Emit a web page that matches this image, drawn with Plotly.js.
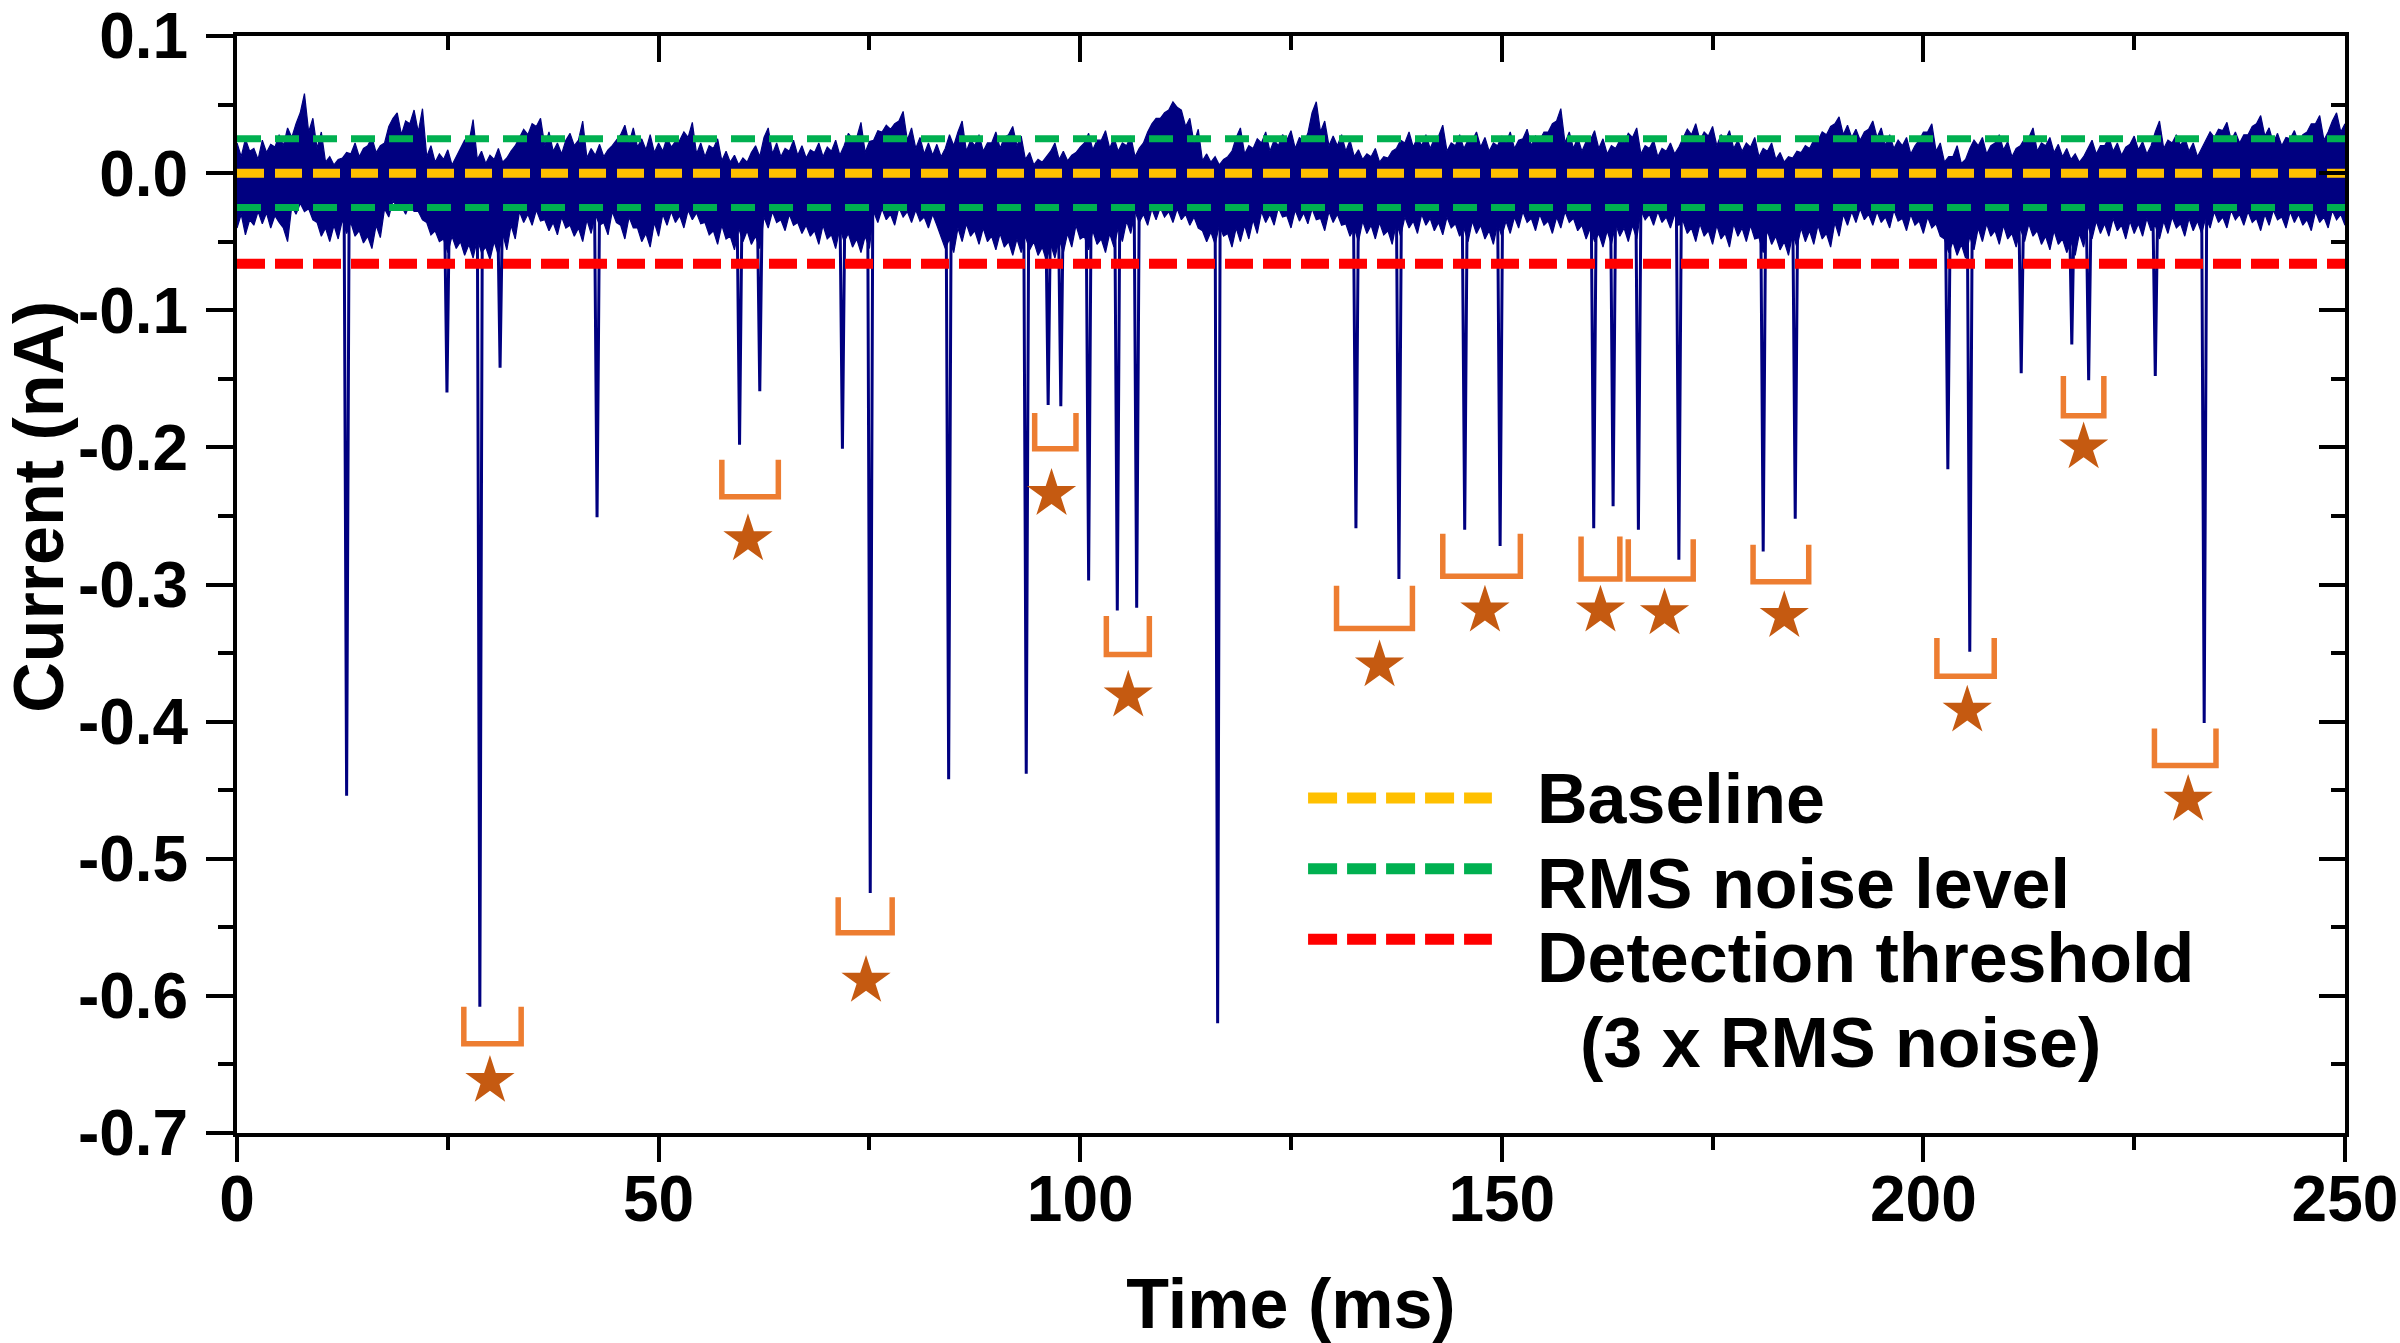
<!DOCTYPE html>
<html>
<head>
<meta charset="utf-8">
<script src="https://cdn.plot.ly/plotly-3.0.1.min.js"></script>
<style>html,body{margin:0;padding:0;background:#fff;}#chart{width:2400px;height:1343px;}</style>
</head>
<body>
<div id="chart"></div>
<script>
// ---- data ----
// sample times (ms) of the band envelope, whole and half milliseconds
const timeMs = [
  0,1,2,3,4,5,6,7,8,9,10,11,12,13,14,15,16,17,18,19,20,21,22,23,24,25,26,27,28,29,30,
  31,32,33,34,35,36,37,38,39,40,41,42,43,44,45,46,47,48,49,50,51,52,53,54,55,56,57,58,59,60,
  61,62,63,64,65,66,67,68,69,70,71,72,73,74,75,76,77,78,79,80,81,82,83,84,85,86,87,88,89,90,
  91,92,93,94,95,96,97,98,99,100,101,102,103,104,105,106,107,108,109,110,111,112,113,114,115,116,117,118,119,120,
  121,122,123,124,125,126,127,128,129,130,131,132,133,134,135,136,137,138,139,140,141,142,143,144,145,146,147,148,149,150,
  151,152,153,154,155,156,157,158,159,160,161,162,163,164,165,166,167,168,169,170,171,172,173,174,175,176,177,178,179,180,
  181,182,183,184,185,186,187,188,189,190,191,192,193,194,195,196,197,198,199,200,201,202,203,204,205,206,207,208,209,210,
  211,212,213,214,215,216,217,218,219,220,221,222,223,224,225,226,227,228,229,230,231,232,233,234,235,236,237,238,239,240,
  241,242,243,244,245,246,247,248,249,250
];
const timeMidMs = [
  0.5,1.5,2.5,3.5,4.5,5.5,6.5,7.5,8.5,9.5,10.5,11.5,12.5,13.5,14.5,15.5,16.5,17.5,18.5,19.5,
  20.5,21.5,22.5,23.5,24.5,25.5,26.5,27.5,28.5,29.5,30.5,31.5,32.5,33.5,34.5,35.5,36.5,37.5,38.5,39.5,
  40.5,41.5,42.5,43.5,44.5,45.5,46.5,47.5,48.5,49.5,50.5,51.5,52.5,53.5,54.5,55.5,56.5,57.5,58.5,59.5,
  60.5,61.5,62.5,63.5,64.5,65.5,66.5,67.5,68.5,69.5,70.5,71.5,72.5,73.5,74.5,75.5,76.5,77.5,78.5,79.5,
  80.5,81.5,82.5,83.5,84.5,85.5,86.5,87.5,88.5,89.5,90.5,91.5,92.5,93.5,94.5,95.5,96.5,97.5,98.5,99.5,
  100.5,101.5,102.5,103.5,104.5,105.5,106.5,107.5,108.5,109.5,110.5,111.5,112.5,113.5,114.5,115.5,116.5,117.5,118.5,119.5,
  120.5,121.5,122.5,123.5,124.5,125.5,126.5,127.5,128.5,129.5,130.5,131.5,132.5,133.5,134.5,135.5,136.5,137.5,138.5,139.5,
  140.5,141.5,142.5,143.5,144.5,145.5,146.5,147.5,148.5,149.5,150.5,151.5,152.5,153.5,154.5,155.5,156.5,157.5,158.5,159.5,
  160.5,161.5,162.5,163.5,164.5,165.5,166.5,167.5,168.5,169.5,170.5,171.5,172.5,173.5,174.5,175.5,176.5,177.5,178.5,179.5,
  180.5,181.5,182.5,183.5,184.5,185.5,186.5,187.5,188.5,189.5,190.5,191.5,192.5,193.5,194.5,195.5,196.5,197.5,198.5,199.5,
  200.5,201.5,202.5,203.5,204.5,205.5,206.5,207.5,208.5,209.5,210.5,211.5,212.5,213.5,214.5,215.5,216.5,217.5,218.5,219.5,
  220.5,221.5,222.5,223.5,224.5,225.5,226.5,227.5,228.5,229.5,230.5,231.5,232.5,233.5,234.5,235.5,236.5,237.5,238.5,239.5,
  240.5,241.5,242.5,243.5,244.5,245.5,246.5,247.5,248.5,249.5
];
// upper edge of the open-pore noise band (nA) at whole ms
const noiseHigh = [
  0.022,0.025,0.018,0.024,0.021,0.028,0.033,0.036,0.058,0.040,0.030,
  0.012,0.010,0.015,0.022,0.018,0.026,0.020,0.034,0.044,0.038,
  0.046,0.047,0.020,0.014,0.017,0.012,0.024,0.039,0.016,0.013,
  0.018,0.011,0.020,0.032,0.036,0.040,0.030,0.022,0.024,0.020,
  0.038,0.018,0.021,0.017,0.024,0.035,0.033,0.025,0.028,0.022,
  0.026,0.023,0.030,0.037,0.022,0.020,0.025,0.016,0.013,0.011,
  0.015,0.012,0.033,0.022,0.018,0.024,0.020,0.017,0.022,0.019,
  0.024,0.020,0.025,0.037,0.023,0.031,0.035,0.036,0.045,0.033,
  0.026,0.022,0.021,0.018,0.020,0.038,0.024,0.028,0.022,0.030,
  0.026,0.034,0.027,0.015,0.010,0.012,0.022,0.016,0.013,0.019,
  0.029,0.024,0.031,0.026,0.022,0.027,0.018,0.030,0.040,0.044,
  0.052,0.046,0.040,0.032,0.014,0.012,0.010,0.016,0.033,0.020,
  0.025,0.030,0.024,0.028,0.031,0.026,0.029,0.052,0.038,0.027,
  0.028,0.024,0.017,0.014,0.018,0.012,0.016,0.024,0.030,0.026,
  0.028,0.025,0.035,0.022,0.028,0.024,0.030,0.026,0.022,0.027,
  0.030,0.024,0.032,0.027,0.030,0.036,0.047,0.030,0.026,0.023,
  0.031,0.025,0.020,0.024,0.029,0.033,0.020,0.024,0.018,0.022,
  0.019,0.032,0.036,0.030,0.034,0.028,0.031,0.024,0.022,0.026,
  0.018,0.022,0.015,0.012,0.016,0.020,0.024,0.030,0.034,0.041,
  0.035,0.032,0.030,0.038,0.033,0.028,0.024,0.026,0.020,0.030,
  0.036,0.022,0.012,0.020,0.010,0.024,0.026,0.020,0.028,0.023,
  0.018,0.025,0.033,0.022,0.026,0.021,0.018,0.014,0.012,0.024,
  0.020,0.026,0.022,0.019,0.027,0.023,0.020,0.038,0.024,0.028,
  0.026,0.022,0.018,0.030,0.032,0.037,0.030,0.028,0.034,0.042,
  0.033,0.029,0.026,0.031,0.028,0.036,0.042,0.030,0.044,0.036
];
// upper edge at half ms
const noiseHighMid = [
  0.012,0.016,0.010,0.015,0.019,0.020,0.026,0.044,0.030,0.018,
  0.008,0.006,0.011,0.014,0.012,0.020,0.015,0.022,0.040,0.028,
  0.036,0.030,0.012,0.008,0.010,0.006,0.018,0.022,0.010,0.007,
  0.010,0.008,0.016,0.026,0.028,0.034,0.020,0.016,0.014,0.029,
  0.024,0.011,0.013,0.012,0.020,0.028,0.022,0.019,0.017,0.015,
  0.016,0.019,0.024,0.026,0.014,0.012,0.018,0.009,0.008,0.006,
  0.008,0.020,0.026,0.014,0.012,0.016,0.013,0.011,0.015,0.012,
  0.016,0.013,0.029,0.026,0.015,0.024,0.030,0.032,0.038,0.024,
  0.018,0.014,0.013,0.012,0.028,0.030,0.016,0.020,0.016,0.022,
  0.018,0.028,0.020,0.010,0.006,0.008,0.016,0.010,0.009,0.015,
  0.022,0.017,0.024,0.018,0.016,0.020,0.012,0.022,0.036,0.040,
  0.046,0.048,0.034,0.022,0.009,0.008,0.006,0.012,0.026,0.014,
  0.018,0.022,0.016,0.020,0.024,0.018,0.022,0.044,0.030,0.020,
  0.020,0.016,0.012,0.010,0.012,0.008,0.011,0.018,0.022,0.019,
  0.020,0.018,0.027,0.016,0.020,0.018,0.024,0.019,0.016,0.020,
  0.022,0.018,0.025,0.020,0.024,0.030,0.038,0.022,0.018,0.016,
  0.024,0.018,0.014,0.018,0.022,0.026,0.014,0.018,0.012,0.016,
  0.014,0.026,0.028,0.024,0.027,0.020,0.024,0.018,0.016,0.019,
  0.012,0.016,0.010,0.008,0.011,0.015,0.018,0.024,0.028,0.036,
  0.028,0.026,0.024,0.032,0.026,0.020,0.018,0.020,0.014,0.024,
  0.030,0.016,0.008,0.012,0.007,0.018,0.020,0.014,0.022,0.017,
  0.012,0.020,0.026,0.016,0.020,0.015,0.012,0.010,0.008,0.018,
  0.014,0.020,0.016,0.013,0.021,0.017,0.014,0.030,0.018,0.022,
  0.020,0.016,0.012,0.024,0.026,0.031,0.024,0.022,0.028,0.036,
  0.027,0.022,0.020,0.025,0.022,0.030,0.036,0.024,0.038,0.030
];
// lower edge of the open-pore noise band (nA) at whole ms
const noiseLow = [
  -0.040,-0.045,-0.038,-0.037,-0.040,-0.036,-0.050,-0.030,-0.028,-0.034,-0.046,
  -0.050,-0.048,-0.044,-0.046,-0.051,-0.055,-0.047,-0.032,-0.025,-0.030,
  -0.028,-0.034,-0.045,-0.050,-0.058,-0.055,-0.060,-0.062,-0.058,-0.063,
  -0.060,-0.056,-0.048,-0.036,-0.038,-0.035,-0.042,-0.045,-0.040,-0.046,
  -0.050,-0.044,-0.038,-0.045,-0.036,-0.048,-0.040,-0.050,-0.054,-0.046,
  -0.038,-0.036,-0.040,-0.034,-0.037,-0.045,-0.052,-0.048,-0.056,-0.050,
  -0.052,-0.055,-0.040,-0.036,-0.042,-0.038,-0.044,-0.046,-0.052,-0.048,
  -0.055,-0.050,-0.054,-0.058,-0.055,-0.036,-0.034,-0.038,-0.032,-0.036,
  -0.035,-0.040,-0.038,-0.055,-0.058,-0.050,-0.046,-0.052,-0.050,-0.056,
  -0.054,-0.060,-0.058,-0.056,-0.060,-0.064,-0.062,-0.058,-0.054,-0.048,
  -0.056,-0.052,-0.058,-0.054,-0.050,-0.044,-0.036,-0.038,-0.034,-0.032,
  -0.036,-0.034,-0.038,-0.040,-0.050,-0.052,-0.046,-0.054,-0.050,-0.048,
  -0.044,-0.036,-0.038,-0.032,-0.040,-0.035,-0.037,-0.034,-0.042,-0.036,
  -0.038,-0.046,-0.050,-0.044,-0.048,-0.045,-0.052,-0.046,-0.040,-0.044,
  -0.038,-0.042,-0.045,-0.040,-0.046,-0.050,-0.044,-0.048,-0.052,-0.046,
  -0.044,-0.040,-0.036,-0.042,-0.038,-0.044,-0.040,-0.036,-0.042,-0.048,
  -0.050,-0.054,-0.052,-0.046,-0.050,-0.048,-0.034,-0.038,-0.036,-0.040,
  -0.038,-0.044,-0.050,-0.046,-0.052,-0.048,-0.054,-0.046,-0.050,-0.048,
  -0.058,-0.052,-0.056,-0.060,-0.054,-0.050,-0.052,-0.048,-0.054,-0.046,
  -0.038,-0.036,-0.034,-0.038,-0.036,-0.040,-0.035,-0.042,-0.038,-0.044,
  -0.040,-0.046,-0.058,-0.060,-0.062,-0.056,-0.050,-0.046,-0.052,-0.048,
  -0.054,-0.050,-0.046,-0.052,-0.056,-0.052,-0.058,-0.060,-0.054,-0.048,
  -0.044,-0.046,-0.042,-0.048,-0.044,-0.046,-0.042,-0.048,-0.044,-0.040,
  -0.046,-0.042,-0.044,-0.040,-0.036,-0.040,-0.034,-0.038,-0.036,-0.042,
  -0.038,-0.034,-0.040,-0.036,-0.038,-0.042,-0.036,-0.040,-0.034,-0.038
];
// lower edge at half ms
const noiseLowMid = [
  -0.030,-0.034,-0.028,-0.029,-0.031,-0.040,-0.024,-0.022,-0.026,-0.036,
  -0.040,-0.038,-0.034,-0.036,-0.042,-0.046,-0.038,-0.026,-0.020,-0.024,
  -0.022,-0.028,-0.036,-0.042,-0.048,-0.046,-0.050,-0.052,-0.048,-0.054,
  -0.050,-0.044,-0.038,-0.028,-0.030,-0.027,-0.034,-0.036,-0.032,-0.038,
  -0.040,-0.034,-0.030,-0.036,-0.028,-0.038,-0.032,-0.040,-0.044,-0.036,
  -0.030,-0.028,-0.031,-0.027,-0.029,-0.036,-0.042,-0.038,-0.046,-0.040,
  -0.042,-0.046,-0.032,-0.028,-0.034,-0.030,-0.036,-0.038,-0.042,-0.038,
  -0.045,-0.040,-0.044,-0.048,-0.046,-0.028,-0.026,-0.030,-0.025,-0.028,
  -0.027,-0.032,-0.030,-0.046,-0.048,-0.040,-0.037,-0.042,-0.040,-0.046,
  -0.044,-0.050,-0.048,-0.046,-0.050,-0.054,-0.052,-0.048,-0.044,-0.038,
  -0.046,-0.042,-0.048,-0.044,-0.040,-0.035,-0.028,-0.030,-0.026,-0.025,
  -0.028,-0.026,-0.030,-0.032,-0.042,-0.043,-0.038,-0.044,-0.040,-0.038,
  -0.034,-0.028,-0.030,-0.025,-0.031,-0.027,-0.029,-0.026,-0.033,-0.028,
  -0.030,-0.037,-0.040,-0.035,-0.038,-0.036,-0.042,-0.036,-0.032,-0.035,
  -0.030,-0.033,-0.036,-0.032,-0.037,-0.040,-0.035,-0.038,-0.042,-0.037,
  -0.035,-0.032,-0.028,-0.033,-0.030,-0.035,-0.032,-0.028,-0.033,-0.038,
  -0.040,-0.044,-0.042,-0.037,-0.040,-0.038,-0.027,-0.030,-0.028,-0.032,
  -0.030,-0.035,-0.040,-0.037,-0.042,-0.038,-0.044,-0.037,-0.040,-0.038,
  -0.047,-0.042,-0.046,-0.050,-0.044,-0.040,-0.042,-0.038,-0.044,-0.036,
  -0.030,-0.028,-0.026,-0.030,-0.028,-0.032,-0.027,-0.033,-0.030,-0.035,
  -0.032,-0.037,-0.048,-0.050,-0.052,-0.046,-0.040,-0.037,-0.042,-0.038,
  -0.044,-0.040,-0.037,-0.042,-0.046,-0.042,-0.048,-0.050,-0.044,-0.038,
  -0.035,-0.037,-0.033,-0.038,-0.035,-0.037,-0.033,-0.038,-0.035,-0.032,
  -0.037,-0.033,-0.035,-0.032,-0.028,-0.032,-0.027,-0.030,-0.028,-0.033,
  -0.030,-0.027,-0.032,-0.028,-0.030,-0.034,-0.028,-0.032,-0.027,-0.030
];
// translocation events: time (ms) and peak current (nA)
const eventTime  = [13.0, 24.9, 28.8, 31.2, 42.7, 59.6, 62.0, 71.8, 75.1, 84.4, 93.6, 96.2, 97.7, 101.0, 104.4, 106.7, 116.3,
                    132.7, 137.8, 145.6, 149.8, 160.9, 163.2, 166.2, 171.0, 181.0, 184.8, 202.9, 205.5, 211.6, 217.6, 219.6, 227.5, 233.3];
const eventDepth = [-0.454, -0.160, -0.608, -0.142, -0.251, -0.198, -0.159, -0.201, -0.525, -0.442, -0.438, -0.169, -0.170, -0.297, -0.319, -0.317, -0.620,
                    -0.259, -0.296, -0.260, -0.272, -0.259, -0.243, -0.260, -0.282, -0.276, -0.252, -0.216, -0.349, -0.146, -0.125, -0.151, -0.148, -0.401];
const eventShoulder = -0.02;   // level from which each spike leaves the band
// marked event pairs (brackets) and stars
const bracketStart  = [26.9, 57.5, 71.3, 94.6, 103.1, 130.4, 143.0, 159.4, 165.0, 179.8, 201.6, 216.6, 227.4];
const bracketEnd    = [33.7, 64.2, 77.7, 99.5, 108.2, 139.4, 152.2, 164.0, 172.7, 186.4, 208.4, 221.4, 234.7];
const bracketTop    = [-0.608, -0.209, -0.528, -0.175, -0.323, -0.301, -0.263, -0.265, -0.267, -0.271, -0.339, -0.148, -0.405];
const bracketBottom = [-0.635, -0.236, -0.554, -0.201, -0.351, -0.332, -0.294, -0.296, -0.296, -0.298, -0.367, -0.177, -0.432];
const starTime  = [30.0, 60.6, 74.6, 96.6, 105.7, 135.5, 148.0, 161.7, 169.3, 183.5, 205.2, 219.0, 231.4];
const starLevel = [-0.662, -0.267, -0.589, -0.234, -0.381, -0.359, -0.319, -0.319, -0.321, -0.323, -0.392, -0.200, -0.457];
// reference levels (nA)
const baselineLevel  = 0.0;
const rmsLevel       = 0.025;
const thresholdLevel = -0.066;
const timeRange = [0, 250];
const currentRange = [-0.7, 0.1];
// ticks
const xTickVals = [0, 50, 100, 150, 200, 250];
const xTickText = ['0', '50', '100', '150', '200', '250'];
const yTickVals = [-0.7, -0.6, -0.5, -0.4, -0.3, -0.2, -0.1, 0.0, 0.1];
const yTickText = ['-0.7', '-0.6', '-0.5', '-0.4', '-0.3', '-0.2', '-0.1', '0.0', '0.1'];
const legendLabels = ['Baseline', 'RMS noise level', 'Detection threshold', '(3 x RMS noise)'];

// ---- build traces ----
const NAVY = '#000080';
// merge whole-ms and half-ms samples into one envelope table
const envT = [], envHi = [], envLo = [];
timeMs.forEach((t, i) => {
  envT.push(t); envHi.push(noiseHigh[i]); envLo.push(noiseLow[i]);
  if (i < timeMidMs.length) { envT.push(timeMidMs[i]); envHi.push(noiseHighMid[i]); envLo.push(noiseLowMid[i]); }
});
const spikeX = [], spikeY = [];
eventTime.forEach((t, i) => {
  spikeX.push(t - 0.3, t, t + 0.3, null);
  spikeY.push(eventShoulder, eventDepth[i], eventShoulder, null);
});
const brX = [], brY = [];
bracketStart.forEach((s, i) => {
  brX.push(s, s, bracketEnd[i], bracketEnd[i], null);
  brY.push(bracketTop[i], bracketBottom[i], bracketBottom[i], bracketTop[i], null);
});
function levelTrace(y, color, width, dash) {
  return {x: timeRange, y: [y, y], xaxis: 'x2', yaxis: 'y2', mode: 'lines',
          line: {color: color, width: width, dash: dash}, hoverinfo: 'skip', showlegend: false};
}
const traces = [
  {x: envT, y: envLo, mode: 'lines', line: {color: NAVY, width: 1.2}, showlegend: false, hoverinfo: 'skip'},
  {x: envT, y: envHi, mode: 'lines', fill: 'tonexty', fillcolor: NAVY, line: {color: NAVY, width: 1.2}, showlegend: false, hoverinfo: 'skip'},
  {x: spikeX, y: spikeY, mode: 'lines', line: {color: NAVY, width: 3}, connectgaps: false, showlegend: false, name: 'events'},
  levelTrace(rmsLevel, '#00B050', 7, '24px,14px'),
  levelTrace(-rmsLevel, '#00B050', 7, '24px,14px'),
  levelTrace(baselineLevel, '#FFC000', 9, '27px,11px'),
  levelTrace(thresholdLevel, '#FF0000', 10, '28px,10px'),
  {x: brX, y: brY, xaxis: 'x2', yaxis: 'y2', mode: 'lines', line: {color: '#ED7D31', width: 5.5}, connectgaps: false, showlegend: false, hoverinfo: 'skip'},
  {x: starTime, y: starLevel, xaxis: 'x2', yaxis: 'y2', mode: 'markers', marker: {symbol: 'star', size: 37, color: '#C55A11', line: {width: 0}}, showlegend: false}
];

// ---- layout ----
const F = 'Liberation Sans, Arial, Helvetica, sans-serif';
const tickFont = {family: F, size: 64, color: '#000', weight: 'bold'};
const titleFont = {family: F, size: 70, color: '#000', weight: 'bold'};
const yTitle = '\u200b' + '\u00a0'.repeat(8) + 'Current (nA)';

// legend built in paper space
const legX0 = 0.5081, legX1 = 0.5953, legTextX = 0.6157, legIndentX = 0.6362;
const legLineY = [0.3053, 0.2409, 0.1766];
const legTextY = [0.3043, 0.2274, 0.1594, 0.0824];
const legColors = ['#FFC000', '#00B050', '#FF0000'];
const shapes = legLineY.map((y, i) => ({type: 'line', xref: 'paper', yref: 'paper', x0: legX0, x1: legX1, y0: y, y1: y,
  line: {color: legColors[i], width: 11, dash: '29px,10px'}}));
const annotations = legendLabels.map((txt, i) => ({xref: 'paper', yref: 'paper', x: i === 3 ? legIndentX : legTextX, y: legTextY[i],
  xanchor: 'left', yanchor: 'middle', text: txt, showarrow: false, font: titleFont}));

const layout = {
  width: 2400, height: 1343,
  margin: {l: 237, r: 55, t: 36, b: 210},
  paper_bgcolor: '#fff', plot_bgcolor: '#fff',
  showlegend: false,
  font: {family: F, color: '#000'},
  xaxis: {
    range: timeRange, tickmode: 'array', tickvals: xTickVals, ticktext: xTickText,
    ticks: 'outside', ticklen: 25, tickwidth: 4, tickcolor: '#000', ticklabelstandoff: -18, ticklabeloverflow: 'allow',
    minor: {tickmode: 'linear', tick0: 0, dtick: 25, ticks: 'outside', ticklen: 13, tickwidth: 4, tickcolor: '#000', showgrid: false},
    showline: true, linewidth: 4, linecolor: '#000', mirror: false,
    showgrid: false, zeroline: false, tickfont: tickFont,
    title: {text: 'Time (ms)', font: titleFont, standoff: 62}, automargin: false
  },
  yaxis: {
    range: currentRange, tickmode: 'array', tickvals: yTickVals, ticktext: yTickText,
    ticks: 'outside', ticklen: 27, tickwidth: 4, tickcolor: '#000', ticklabelstandoff: 5, ticklabeloverflow: 'allow',
    minor: {tickmode: 'linear', tick0: 0, dtick: 0.05, ticks: 'outside', ticklen: 15, tickwidth: 4, tickcolor: '#000', showgrid: false},
    showline: true, linewidth: 4, linecolor: '#000', mirror: false,
    showgrid: false, zeroline: false, tickfont: tickFont,
    title: {text: yTitle, font: titleFont, standoff: 24}, automargin: false
  },
  xaxis2: {
    overlaying: 'x', side: 'top', anchor: 'y', range: timeRange,
    tickmode: 'array', tickvals: xTickVals, showticklabels: false,
    ticks: 'inside', ticklen: 26, tickwidth: 4, tickcolor: '#000',
    minor: {tickmode: 'linear', tick0: 0, dtick: 25, ticks: 'inside', ticklen: 14, tickwidth: 4, tickcolor: '#000', showgrid: false},
    showline: true, linewidth: 4, linecolor: '#000', showgrid: false, zeroline: false
  },
  yaxis2: {
    overlaying: 'y', side: 'right', anchor: 'x', range: currentRange,
    tickmode: 'array', tickvals: yTickVals, showticklabels: false,
    ticks: 'inside', ticklen: 26, tickwidth: 4, tickcolor: '#000',
    minor: {tickmode: 'linear', tick0: 0, dtick: 0.05, ticks: 'inside', ticklen: 14, tickwidth: 4, tickcolor: '#000', showgrid: false},
    showline: true, linewidth: 4, linecolor: '#000', showgrid: false, zeroline: false
  },
  shapes: shapes,
  annotations: annotations
};

Plotly.newPlot('chart', traces, layout, {staticPlot: true, displayModeBar: false});
</script>
</body>
</html>
